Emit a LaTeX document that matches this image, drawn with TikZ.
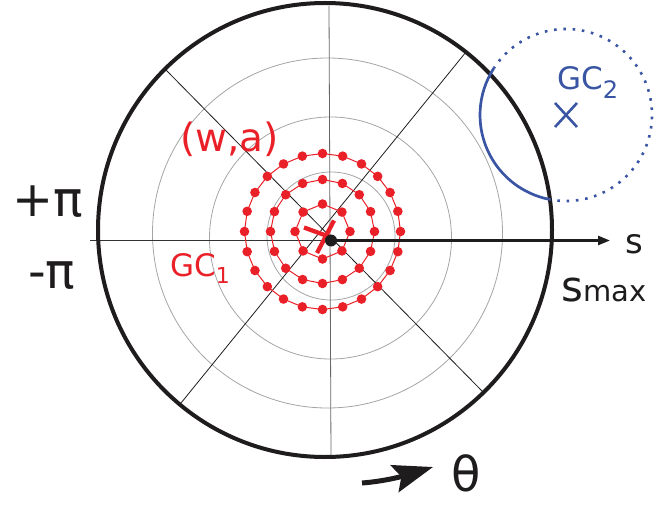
\documentclass[tikz,border=0pt]{standalone}
\usepackage{fontspec}
\setmainfont{DejaVu Sans}
\usetikzlibrary{arrows.meta}
\definecolor{redc}{RGB}{234,32,40}
\definecolor{bluec}{RGB}{58,85,163}
\definecolor{blk}{RGB}{30,28,29}
\definecolor{grayc}{RGB}{165,165,165}
\begin{document}
\begin{tikzpicture}[x=1pt,y=1pt,
  lbl/.style={inner sep=0pt, anchor=base west},
  gridring/.style={draw=grayc, line width=0.8pt},
  spoke/.style={draw=blk, line width=0.8pt},
  reddot/.style={fill=redc},
  redring/.style={draw=redc, line width=1pt}]
\useasboundingbox (0,0) rectangle (658,504);
% named points
\coordinate (C) at (325,274);     % big circle centre
\coordinate (O) at (331,263.5);   % axis origin
\coordinate (R) at (322.5,272.5); % red centre
\coordinate (B) at (566,389);     % blue centre
\coordinate (L) at (90,263.5);
\coordinate (Sx) at (610,263.5);
\coordinate (Vt) at (329,498);
\coordinate (Vb) at (331,47);
\coordinate (D1a) at (166,434);
\coordinate (D1b) at (483,112);
\coordinate (D2a) at (466,452);
\coordinate (D2b) at (181,101);
% grey rings
\draw[gridring] (327.5,271) circle (175);
\draw[gridring] (330.5,266) circle (121);
\draw[gridring] (331,268) circle (64);
% spokes
\draw[spoke] (D1a) -- (D1b);
\draw[spoke] (D2a) -- (D2b);
\draw[draw=gray!80!black, line width=0.8pt] (Vt) -- (Vb);
\draw[draw=gray!40!black, line width=0.9pt] (L) -- (O);
% red rings of dots
\foreach \r/\n in {27.5/8, 52/16, 78/24}{
  \draw[redring] plot[samples=\n+1, domain=0:360] ({322.5+\r*cos(\x)},{272.5+\r*sin(\x)});
  \pgfmathsetmacro{\st}{360/\n}
  \foreach \k in {1,...,\n}{
    \fill[reddot] ([shift={(\k*\st:\r)}]R) circle (4.8);
  }
}
% red cross
\draw[redc, line width=4.3pt] (304,276.5) -- (330,267);
\draw[redc, line width=4.3pt] (334,283.5) -- (317,251);
% s axis
\draw[blk, line width=2.4pt, -{Triangle[length=12pt,width=9pt]}] (O) -- (Sx);
\fill[blk] (O) circle (6);
% big circle
\draw[blk, line width=4pt] (C) circle (227);
% blue GC2
\draw[bluec, line width=2.7pt] ([shift={(147:86)}]B) arc[start angle=147, end angle=258, radius=86];
\draw[bluec, line width=2.6pt, dash pattern=on 2.6pt off 6.7pt] ([shift={(258:86)}]B) arc[start angle=258, end angle=507, radius=86];
\draw[bluec, line width=2.6pt] ([shift={(-11,12)}]B) -- ([shift={(11,-12)}]B);
\draw[bluec, line width=2.6pt] ([shift={(-11,-12)}]B) -- ([shift={(11,12)}]B);
% theta arrow
\coordinate (T0) at (362,21);
\coordinate (T1) at (433,37);
\draw[blk, line width=5pt, -{Stealth[length=40pt,width=28pt,inset=7pt]}] (T0) .. controls (382,22.5) and (400,27) .. (T1);
% labels
\node[lbl, text=bluec] (gc2) at (557,414) {\fontsize{31}{31}\selectfont GC\raisebox{-9pt}{\fontsize{24}{24}\selectfont 2}};
\node[lbl, text=redc] (gc1) at (170,228) {\fontsize{31}{31}\selectfont GC\raisebox{-7pt}{\fontsize{22}{22}\selectfont 1}};
\node[lbl, text=redc] (wa) at (180,352) {\fontsize{39}{39}\selectfont (w,a)};
\node[lbl, text=blk] (pp) at (12,287.5) {\fontsize{49}{49}\selectfont +π};
\node[lbl, text=blk] (mp) at (28,216) {\fontsize{49}{49}\selectfont -π};
\node[lbl, text=blk] (s) at (625,250.7) {\fontsize{34}{34}\selectfont s};
\node[lbl, text=blk] (smax) at (561,202.3) {\fontsize{42}{42}\selectfont s\fontsize{29}{29}\selectfont max};
\node[lbl, text=blk] (th) at (451,12.5) {\fontsize{48}{48}\selectfont θ};
\end{tikzpicture}
\end{document}
